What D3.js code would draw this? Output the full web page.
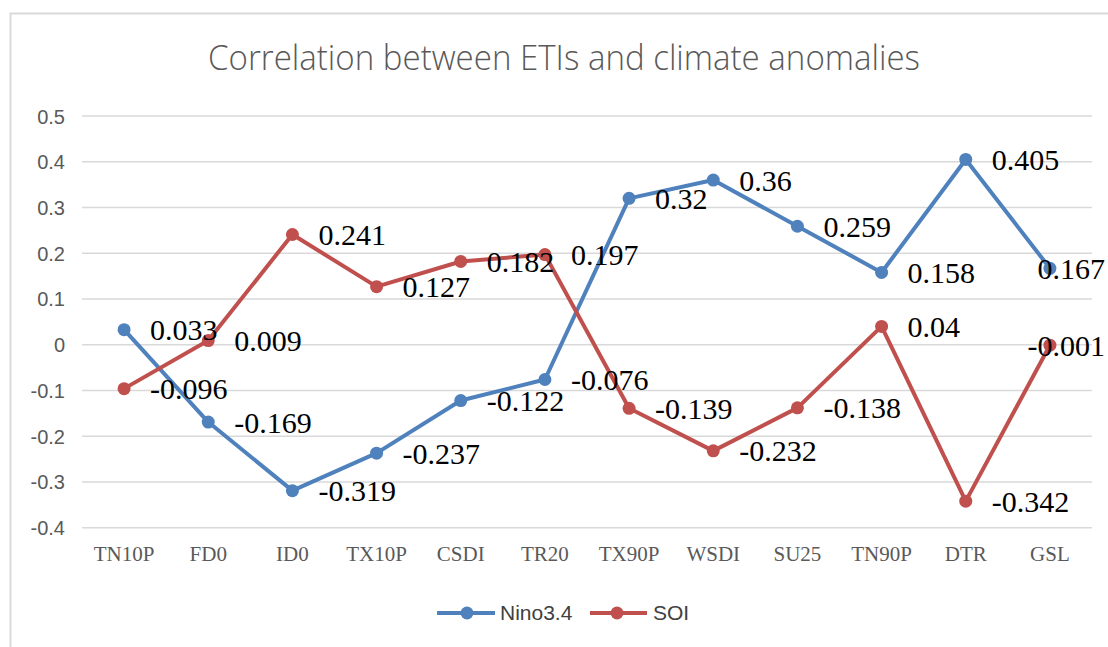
<!DOCTYPE html>
<html>
<head>
<meta charset="utf-8">
<script src="https://cdn.jsdelivr.net/npm/d3@7"></script>
<style>
  html, body { margin: 0; padding: 0; background: #fff; }
  svg { display: block; }
</style>
</head>
<body>
<svg id="chart" width="1108" height="647"></svg>
<script>
const categories = ["TN10P","FD0","ID0","TX10P","CSDI","TR20","TX90P","WSDI","SU25","TN90P","DTR","GSL"];
const nino = [0.033,-0.169,-0.319,-0.237,-0.122,-0.076,0.32,0.36,0.259,0.158,0.405,0.167];
const soi = [-0.096,0.009,0.241,0.127,0.182,0.197,-0.139,-0.232,-0.138,0.04,-0.342,-0.001];
const yTicks = [0.5,0.4,0.3,0.2,0.1,0,-0.1,-0.2,-0.3,-0.4];
const yTickLabels = ["0.5","0.4","0.3","0.2","0.1","0","-0.1","-0.2","-0.3","-0.4"];
const seriesNames = ["Nino3.4","SOI"];
const titleText = "Correlation between ETIs and climate anomalies";

const svg = d3.select("#chart");
const colors = ["#4F81BD", "#C0504D"];

// frame
svg.append("path").attr("d", "M10.5,647 L10.5,13.5 L1108,13.5")
  .attr("fill","none").attr("stroke","#d9d9d9").attr("stroke-width",2);

const x = d3.scaleBand().domain(categories).range([82, 1092]);
const y = d3.scaleLinear().domain([-0.4, 0.5]).range([527.7, 116]);

// title
svg.append("text").attr("x", 564).attr("y", 70).attr("text-anchor","middle")
  .attr("font-family","'Open Sans', sans-serif").attr("font-size",35).attr("font-weight",300)
  .attr("fill","#595959").attr("textLength",712).attr("lengthAdjust","spacingAndGlyphs")
  .text(titleText);

// gridlines
svg.append("g").selectAll("line").data(yTicks).join("line")
  .attr("x1", 82).attr("x2", 1092)
  .attr("y1", d => y(d)).attr("y2", d => y(d))
  .attr("stroke","#d9d9d9").attr("stroke-width",1.5);

// y axis labels
const yAxis = d3.axisLeft(y).tickValues(yTicks).tickSize(0).tickPadding(0)
  .tickFormat((d,i) => yTickLabels[i]);
const yg = svg.append("g").attr("transform","translate(65,0)").call(yAxis);
yg.select(".domain").remove();
yg.selectAll("text").attr("font-family","'Liberation Sans', Arial, sans-serif")
  .attr("font-size",20).attr("fill","#595959").attr("dy","0.35em");

// x axis labels
const xAxis = d3.axisBottom(x).tickSize(0).tickPadding(0);
const xg = svg.append("g").attr("transform","translate(0,545)").call(xAxis);
xg.select(".domain").remove();
xg.selectAll("text").attr("font-family","'Liberation Serif', 'Times New Roman', serif")
  .attr("font-size",21).attr("fill","#595959").attr("dy","0.75em");

const line = d3.line().x((d,i) => x(categories[i]) + x.bandwidth()/2).y(d => y(d));
const data = [nino, soi];

data.forEach((vals, s) => {
  const g = svg.append("g");
  g.append("path").datum(vals).attr("d", line).attr("fill","none")
    .attr("stroke", colors[s]).attr("stroke-width",4).attr("stroke-linejoin","round");
  g.selectAll("circle").data(vals).join("circle")
    .attr("cx",(d,i) => x(categories[i]) + x.bandwidth()/2)
    .attr("cy", d => y(d)).attr("r",6.5).attr("fill", colors[s]);
});

// data labels
data.forEach((vals, s) => {
  svg.append("g").selectAll("text").data(vals).join("text")
    .attr("font-family","'Liberation Serif', 'Times New Roman', serif")
    .attr("font-size",30).attr("fill","#000")
    .attr("y", d => y(d)).attr("dy","0.35em")
    .text(d => String(d))
    .each(function(d,i){
      const w = this.getComputedTextLength();
      let lx = x(categories[i]) + x.bandwidth()/2 + 26;
      if (lx + w > 1105) lx = 1105 - w;
      d3.select(this).attr("x", lx);
    });
});

// legend
const legend = svg.append("g");
const items = [{x1:437,x2:495,cx:467,tx:500},{x1:590,x2:647,cx:617,tx:653}];
items.forEach((it, s) => {
  legend.append("line").attr("x1",it.x1).attr("x2",it.x2).attr("y1",613).attr("y2",613)
    .attr("stroke",colors[s]).attr("stroke-width",4);
  legend.append("circle").attr("cx",it.cx).attr("cy",613).attr("r",6.5).attr("fill",colors[s]);
  legend.append("text").attr("x",it.tx).attr("y",613).attr("dy","0.35em")
    .attr("font-family","'Liberation Sans', Arial, sans-serif").attr("font-size",21)
    .attr("fill","#404040").text(seriesNames[s]);
});
</script>
</body>
</html>
